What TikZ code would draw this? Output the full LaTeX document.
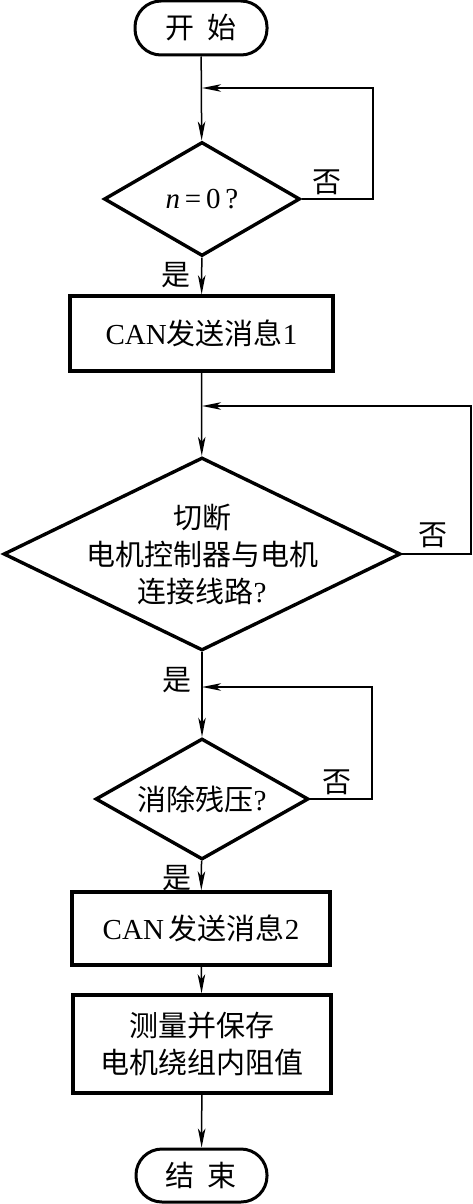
\documentclass[tikz,border=0pt]{standalone}
\usepackage{fontspec}
\setmainfont{Liberation Serif}
\newfontfamily\cjk{Noto Sans CJK SC}
\usetikzlibrary{arrows.meta,shapes.geometric}
\newcommand\zh[1]{{\cjk #1}}
\begin{document}
\begin{tikzpicture}[x=1pt,y=-1pt,
  txt/.style={font=\fontsize{29}{37}\selectfont},
  term/.style={draw,line width=3pt,rounded corners=26pt,minimum width=132pt,minimum height=54pt,inner sep=0pt,txt},
  proc/.style={draw,line width=3.4pt,inner sep=0pt,txt,align=center},
  dec/.style={draw,diamond,line width=3.4pt,inner sep=0pt},
  arr/.style={line width=1.5pt,-{Stealth[length=19pt,width=7.5pt,inset=5pt]}},
  lbl/.style={txt,inner sep=0pt}]
\useasboundingbox (0,0) rectangle (473,1204);
% nodes
\node[term] (start) at (201,28) {\zh{开\hspace{0.45em}始}};
\node[dec,minimum width=196pt,minimum height=114pt,
  label={[txt]center:\textit{n}\,=\,0\,?}] (d1) at (202,199) {};
\node[proc,minimum width=263pt,minimum height=75pt] (b1) at (201.5,333.5) {CAN\zh{发送消息}1};
\node[dec,minimum width=397pt,minimum height=193pt,
  label={[txt,align=center]center:\zh{切断}\\\zh{电机控制器与电机}\\\zh{连接线路}?}] (d2) at (202,554) {};
\node[dec,minimum width=213pt,minimum height=121pt,
  label={[txt]center:\zh{消除残压}?}] (d3) at (202,799) {};
\node[proc,minimum width=258pt,minimum height=73pt] (b2) at (201,928.5) {CAN\,\zh{发送消息}2};
\node[proc,minimum width=258pt,minimum height=98pt] (b3) at (202,1044) {\zh{测量并保存}\\\zh{电机绕组内阻值}};
\node[term,minimum width=131pt,minimum height=53pt] (end) at (201.5,1175.5) {\zh{结\hspace{0.45em}束}};
% junctions
\coordinate (j1) at (202,88);
\coordinate (j2) at (202,406);
\coordinate (j3) at (202,687);
\coordinate (r1) at (373,199);
\coordinate (r2) at (471,554);
\coordinate (r3) at (372,799);
% labels
\node[lbl] (n1) at (327,182) {\zh{否}};
\node[lbl] (n2) at (433,535) {\zh{否}};
\node[lbl] (n3) at (337,782) {\zh{否}};
\node[lbl] (y1) at (176,275) {\zh{是}};
\node[lbl] (y2) at (177,680) {\zh{是}};
\node[lbl] (y3) at (177,878) {\zh{是}};
% connectors
\draw[arr] (start) -- (d1);
\draw[arr] (d1) -- (b1);
\draw[arr] (b1) -- (d2);
\draw[arr] (d2) -- (d3);
\draw[arr] (d3) -- (b2);
\draw[arr] (b2) -- (b3);
\draw[arr] (b3) -- (end);
\draw[arr] (d1.east) -- (r1) |- (j1);
\draw[arr] (d2.east) -- (r2) |- (j2);
\draw[arr] (d3.east) -- (r3) |- (j3);
\end{tikzpicture}
\end{document}
